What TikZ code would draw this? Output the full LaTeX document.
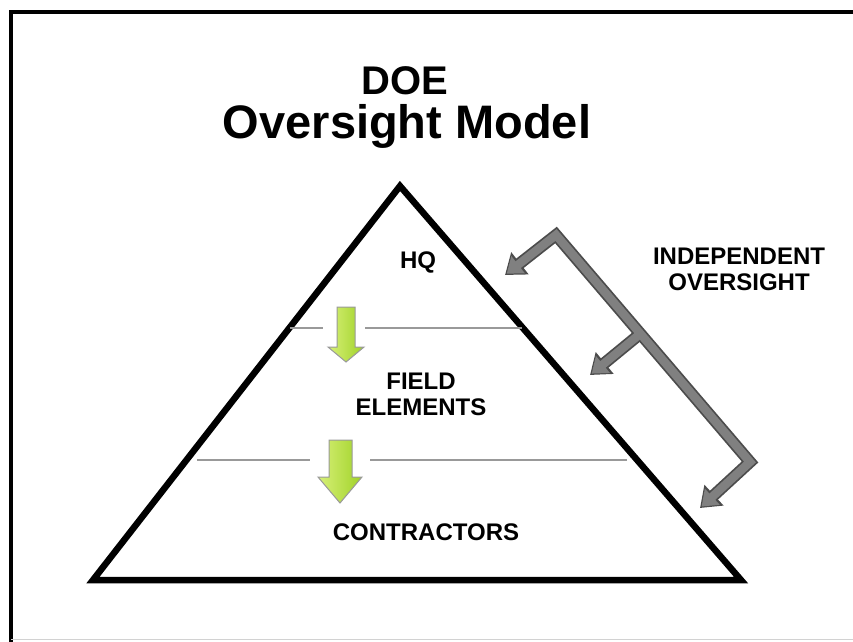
\documentclass[tikz,border=0pt]{standalone}
\usepackage{fontspec}
\setmainfont{Liberation Sans}
\usepackage{tikz}
\usetikzlibrary{arrows.meta, positioning, calc}

\definecolor{lightlime}{RGB}{215,240,120}
\definecolor{darklime}{RGB}{160,210,40}

\tikzset{
  label/.style={font=\fontsize{24}{26}\selectfont\bfseries, align=center, inner sep=0pt},
  titletext/.style={font=\fontsize{#1}{#1}\selectfont\bfseries, inner sep=0pt},
  layerline/.style={gray!80, line width=1.6pt},
  barout/.style={black!70, line width=12pt, line join=miter},
  barin/.style={gray, line width=8.5pt, line join=miter}
}

\begin{document}
\begin{tikzpicture}[x=1pt, y=-1pt]
  \useasboundingbox (0,0) rectangle (853,641);
  % frame
  \draw[line width=3.5pt] (11,660) -- (11,12) -- (880,12);
  \draw[gray!35, line width=1pt] (11,639) -- (880,639);

  % title
  \node[titletext=40, anchor=base] (doe) at (405,94) {DOE};
  \node[titletext=47, anchor=base] (model) at (407,138) {Oversight Model};

  % pyramid
  \coordinate (apex) at (400,186);
  \coordinate (bl) at (93,580);
  \coordinate (br) at (741,580);
  \draw[line width=6.5pt, line join=miter] (apex) -- (br) -- (bl) -- cycle;

  % layer lines
  \draw[layerline] (290,328) -- (323,328);
  \draw[layerline] (365,328) -- (522,328);
  \draw[layerline] (197,460) -- (310,460);
  \draw[layerline] (370,460) -- (627,460);

  % green arrows
  \draw[gray!80, line width=1pt, left color=lightlime, right color=darklime]
    (337,307) -- (355,307) -- (355,347) -- (364,347) -- (346,362) -- (328,347) -- (337,347) -- cycle;
  \draw[gray!80, line width=1pt, left color=lightlime, right color=darklime]
    (329,440) -- (352,440) -- (352,477) -- (362,477) -- (340,503) -- (318,477) -- (329,477) -- cycle;

  % layer names
  \node[label, anchor=base] (hq) at (418,268) {HQ};
  \node[label, anchor=base] (field) at (421,415) {FIELD\\ELEMENTS};
  \node[label, anchor=base] (contr) at (426,540) {CONTRACTORS};
  \node[label, anchor=base] (indep) at (739,290) {INDEPENDENT\\OVERSIGHT};

  % independent oversight bracket
  \coordinate (c1) at (556,235);
  \coordinate (cm) at (640,334);
  \coordinate (c3) at (750,462);
  \coordinate (t1) at (505,275);
  \coordinate (t2) at (590,375);
  \coordinate (t3) at (700,508);
  \draw[barout, {Triangle[width=27pt,length=19pt]}-{Triangle[width=27pt,length=19pt]}] (t1) -- (c1) -- (c3) -- (t3);
  \draw[barout, -{Triangle[width=27pt,length=19pt]}] (cm) -- (t2);
  \draw[barin, shorten <=2.2pt, shorten >=2.2pt, {Triangle[width=21pt,length=14.5pt]}-{Triangle[width=21pt,length=14.5pt]}] (t1) -- (c1) -- (c3) -- (t3);
  \draw[barin, shorten >=2.2pt, -{Triangle[width=21pt,length=14.5pt]}] (cm) -- (t2);
\end{tikzpicture}
\end{document}
